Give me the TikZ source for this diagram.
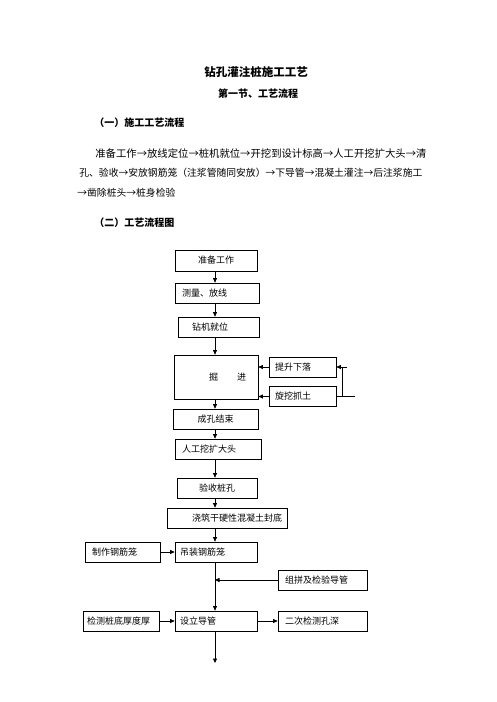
\documentclass[tikz,border=0pt]{standalone}
\usepackage{fontspec}
\setmainfont{Noto Sans CJK SC}
\usetikzlibrary{arrows.meta}
\tikzset{box/.style = {draw, inner sep = 0, minimum height = 20pt, font = \fontsize{9}{10}\selectfont}}
\tikzset{lbox/.style = {box, text width = #1, align = left}}
\tikzset{arr/.style = {-{Triangle[length = 4.5pt, width = 4pt]}}}
\tikzset{txt/.style = {anchor = west, inner sep = 0, font = \fontsize{10}{12}\selectfont}}

\begin{document}
\begin{tikzpicture}[x = 1pt, y = -1pt, line width = 0.7pt]
    \useasboundingbox (0, 0) rectangle (496, 702);

    \node [font = \fontsize{11.5}{13}\selectfont\bfseries] (title) at (256, 72) {钻孔灌注桩施工工艺};
    \node [font = \fontsize{10}{12}\selectfont\bfseries] (section) at (258, 94) {第一节、工艺流程};
    \node [txt, font = \fontsize{10}{12}\selectfont\bfseries] (headA) at (94, 123) {（一）施工工艺流程};

    \node [txt, font = \fontsize{10.35}{12}\selectfont] (lineA) at (95, 154) {准备工作→放线定位→桩机就位→开挖到设计标高→人工开挖扩大头→清};
    \node [txt, font = \fontsize{9.8}{12}\selectfont] (lineB) at (79, 173) {孔、验收→安放钢筋笼（注浆管随同安放）→下导管→混凝土灌注→后注浆施工};
    \node [txt, font = \fontsize{9.8}{12}\selectfont] (lineC) at (77, 193) {→凿除桩头→桩身检验};

    \node [txt, font = \fontsize{10}{12}\selectfont\bfseries] (headB) at (94, 223) {（二）工艺流程图};

    % main column
    \coordinate (axis) at (215, 0);
    \node [box, minimum width = 82pt, minimum height = 21pt] (prep) at (216, 260.5) {准备工作};
    \node [lbox = 84pt] (survey) at (217, 293) {\hspace*{7pt}测量、放线};
    \node [lbox = 81pt] (rig) at (218.5, 327) {\hspace*{14pt}钻机就位};
    \node [lbox = 84pt, minimum height = 44pt] (dig) at (216, 377) {\hspace*{35pt}掘\hspace{19pt}进};
    \node [box, minimum width = 85pt] (hole) at (215.5, 419) {成孔结束};
    \node [lbox = 86pt] (bell) at (218, 449) {\hspace*{7pt}人工挖扩大头};
    \node [box, minimum width = 80pt] (check) at (217, 488) {验收桩孔};
    \node [lbox = 120pt] (seal) at (227, 518) {\hspace*{25pt}浇筑干硬性混凝土封底};
    \node [lbox = 82pt] (lift) at (216, 552) {\hspace*{5pt}吊装钢筋笼};
    \node [lbox = 82pt] (pipe) at (216, 621) {\hspace*{5pt}设立导管};
    \coordinate (end) at (215, 663);

    % side boxes
    \node [lbox = 67pt] (raise) at (302.5, 367) {\hspace*{6pt}提升下落};
    \node [lbox = 67pt] (grab) at (302.5, 396.5) {\hspace*{6pt}旋挖抓土};
    \node [lbox = 75pt] (cage) at (122.5, 552) {\hspace*{7pt}制作钢筋笼};
    \node [lbox = 89pt] (joint) at (322.5, 580) {\hspace*{7pt}组拼及检验导管};
    \node [lbox = 76pt] (base) at (121, 621) {\hspace*{4pt}检测桩底厚度厚};
    \node [lbox = 89pt] (depth) at (322.5, 621) {\hspace*{7pt}二次检测孔深};

    \draw [arr] (prep.south -| axis) -- (survey.north -| axis);
    \draw [arr] (survey.south -| axis) -- (rig.north -| axis);
    \draw [arr] (rig.south -| axis) -- (dig.north -| axis);
    \draw [arr] (dig.south -| axis) -- (hole.north -| axis);
    \draw [arr] (hole.south -| axis) -- (bell.north -| axis);
    \draw [arr] (bell.south -| axis) -- (check.north -| axis);
    \draw [arr] (check.south -| axis) -- (seal.north -| axis);
    \draw [arr] (seal.south -| axis) -- (lift.north -| axis);
    \draw [arr] (lift.south -| axis) -- (pipe.north -| axis);
    \draw [arr] (pipe.south -| axis) -- (end);

    \draw [arr] (raise.west) -- (raise.west -| dig.east);
    \draw [arr] (grab.west) -- (grab.west -| dig.east);
    \coordinate (loop) at (342, 396.5);
    \draw (grab.east) -- ++(19, 0);
    \draw [arr] (loop) |- (raise.east);
    \draw (loop |- raise.east) -- ++(5, 0);

    \draw [arr] (cage) -- (lift);
    \draw [arr] (joint.west) -- (joint.west -| axis);
    \draw [arr] (base) -- (pipe);
    \draw [arr] (pipe) -- (depth);
\end{tikzpicture}
\end{document}
